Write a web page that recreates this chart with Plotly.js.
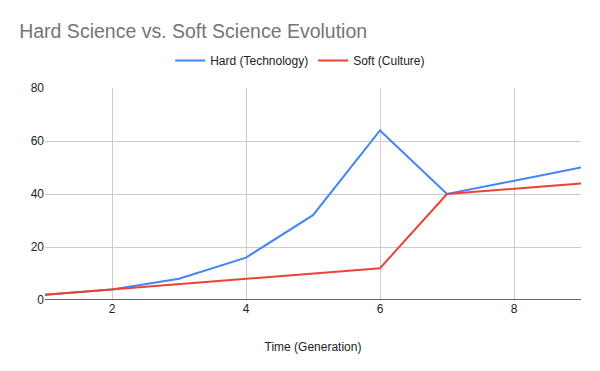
<!DOCTYPE html>
<html><head><meta charset="utf-8">
<script src="https://cdn.plot.ly/plotly-3.0.1.min.js"></script>
<style>html,body{margin:0;padding:0;background:#fff}#chart{width:600px;height:371px}</style>
</head><body><div id="chart"></div>
<script>
const generations = [1, 2, 3, 4, 5, 6, 7, 8, 9];
const hardTech = [2, 4, 8, 16, 32, 64, 40, 45, 50];
const softCulture = [2, 4, 6, 8, 10, 12, 40, 42, 44];
const xTicks = [2, 4, 6, 8];
const yTicks = [0, 20, 40, 60, 80];

const font = 'Arial, "Liberation Sans", sans-serif';
const data = [
  {x: generations, y: hardTech, name: 'Hard (Technology)', type: 'scatter', mode: 'lines',
   line: {color: '#4285F4', width: 2}},
  {x: generations, y: softCulture, name: 'Soft (Culture)', type: 'scatter', mode: 'lines',
   line: {color: '#EA4335', width: 2}}
];
const layout = {
  width: 600, height: 371,
  margin: {l: 45, r: 19, t: 88, b: 71},
  paper_bgcolor: '#fff', plot_bgcolor: '#fff',
  font: {family: font, size: 12, color: '#222'},
  title: {text: 'Hard Science vs. Soft Science Evolution', x: 0.032, xanchor: 'left', y: 0.915, yanchor: 'middle',
          font: {family: font, size: 19.5, color: '#757575'}},
  showlegend: true,
  legend: {orientation: 'h', x: 0.476, xanchor: 'center', y: 1.13, yanchor: 'middle',
           itemwidth: 30, font: {family: font, size: 12, color: '#222'}},
  xaxis: {range: [1, 9], tickvals: xTicks, showgrid: true, gridcolor: '#cccccc', zeroline: false,
          showline: false, ticks: '', tickfont: {size: 12, color: '#222'},
          title: {text: 'Time (Generation)', font: {size: 12, color: '#222'}, standoff: 27}},
  yaxis: {range: [0, 80], tickvals: yTicks, showgrid: true, gridcolor: '#cccccc', zeroline: false,
          showline: false, ticks: '', tickfont: {size: 12, color: '#222'}},
  shapes: [{type: 'line', xref: 'paper', yref: 'y', x0: 0, x1: 1, y0: 0, y1: 0, line: {color: '#333', width: 1.3}}]
};
Plotly.newPlot('chart', data, layout, {displayModeBar: false, staticPlot: true});
</script></body></html>
